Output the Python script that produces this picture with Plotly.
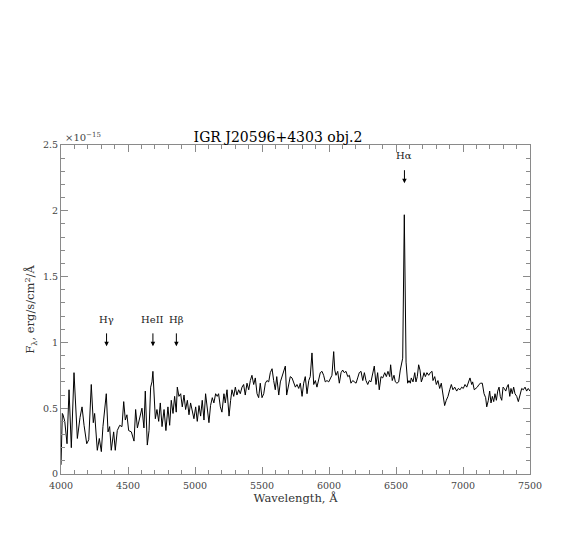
import plotly.graph_objects as go

# Spectrum of IGR J20596+4303 obj.2, flux in units of 1e-15 erg/s/cm2/A
wavelength = [
    4000, 4010, 4015, 4028, 4045, 4060, 4077, 4097, 4122, 4142, 4157, 4172, 4192, 4207,
    4226, 4241, 4251, 4271, 4286, 4301, 4313, 4338, 4351, 4363, 4375, 4393, 4405, 4420,
    4438, 4455, 4468, 4480, 4492, 4505, 4525, 4545, 4557, 4570, 4587, 4604,
    4619, 4629, 4644, 4657, 4669, 4679, 4686, 4694, 4704, 4716, 4729, 4741, 4754, 4769,
    4783, 4798, 4811, 4823, 4836, 4848, 4860, 4868, 4880, 4893, 4905, 4918, 4930, 4943,
    4955, 4967, 4980, 4992, 5005, 5017, 5030, 5042, 5054, 5067, 5079, 5092, 5104, 5116,
    5129, 5141, 5154, 5166, 5176, 5189,
    5201, 5216, 5226, 5239, 5254, 5266, 5276, 5289, 5301, 5313, 5326, 5338, 5351, 5363,
    5375, 5388, 5401, 5413, 5425, 5438, 5450, 5463, 5475, 5487, 5500, 5513, 5525, 5537,
    5550, 5562, 5575, 5587, 5599, 5610, 5625, 5637, 5649, 5662, 5674, 5684, 5699, 5711,
    5724, 5737, 5749, 5761, 5774, 5786,
    5799, 5811, 5823, 5836, 5849, 5860, 5873, 5886, 5898, 5910, 5923, 5935, 5948, 5960,
    5972, 5985, 5998, 6010, 6022, 6035, 6043, 6052, 6065, 6077, 6090, 6102, 6114, 6127,
    6140, 6152, 6164, 6177, 6189, 6202, 6214, 6226, 6239, 6252, 6264, 6276, 6289, 6301,
    6313, 6326, 6338, 6351, 6363, 6375, 6388, 6401,
    6416, 6428, 6440, 6453, 6460, 6472, 6485, 6495, 6507, 6520, 6532, 6550, 6562, 6575,
    6587, 6597, 6607, 6614, 6627, 6640, 6649, 6659, 6669, 6679, 6689, 6699, 6709, 6719,
    6731, 6744, 6756, 6769, 6776, 6789, 6801, 6813, 6826, 6838, 6851, 6863, 6875, 6888,
    6901, 6913, 6925, 6938,
    6953, 6965, 6978, 6990, 7002, 7015, 7028, 7040, 7052, 7065, 7072, 7084, 7097, 7107,
    7119, 7132, 7144, 7157, 7169, 7177, 7189, 7199, 7209, 7219, 7229, 7239, 7249, 7259,
    7269, 7278, 7289, 7299, 7308, 7319, 7328, 7338, 7349, 7358, 7368, 7378, 7388, 7401,
    7413, 7425, 7438, 7450, 7463, 7475, 7487, 7500,
]
flux = [
    0.07, 0.46, 0.45, 0.40, 0.23, 0.64, 0.20, 0.77, 0.27, 0.43, 0.51, 0.37, 0.23, 0.26,
    0.68, 0.39, 0.46, 0.18, 0.27, 0.17, 0.36, 0.61, 0.32, 0.36, 0.18, 0.32, 0.18, 0.33,
    0.37, 0.36, 0.55, 0.41, 0.45, 0.33, 0.32, 0.25, 0.49, 0.35, 0.44, 0.50,
    0.35, 0.63, 0.22, 0.33, 0.66, 0.70, 0.78, 0.61, 0.42, 0.49, 0.40, 0.54, 0.36, 0.49,
    0.33, 0.51, 0.37, 0.56, 0.46, 0.59, 0.47, 0.66, 0.59, 0.61, 0.51, 0.60, 0.49, 0.56,
    0.45, 0.54, 0.47, 0.42, 0.51, 0.40, 0.52, 0.44, 0.56, 0.41, 0.61, 0.49, 0.39, 0.52,
    0.58, 0.54, 0.61, 0.59, 0.61, 0.51,
    0.47, 0.61, 0.54, 0.64, 0.44, 0.56, 0.64, 0.59, 0.66, 0.60, 0.64, 0.61, 0.66, 0.68,
    0.60, 0.69, 0.64, 0.71, 0.75, 0.68, 0.73, 0.61, 0.58, 0.69, 0.58, 0.61, 0.69, 0.71,
    0.70, 0.77, 0.80, 0.71, 0.64, 0.74, 0.60, 0.70, 0.74, 0.79, 0.82, 0.60, 0.69, 0.74,
    0.73, 0.69, 0.66, 0.68, 0.65, 0.69,
    0.59, 0.69, 0.74, 0.61, 0.71, 0.74, 0.92, 0.68, 0.71, 0.66, 0.73, 0.77, 0.78, 0.75,
    0.70, 0.71, 0.70, 0.73, 0.75, 0.93, 0.79, 0.75, 0.78, 0.69, 0.77, 0.79, 0.77, 0.78,
    0.74, 0.75, 0.69, 0.71, 0.70, 0.69, 0.73, 0.77, 0.78, 0.71, 0.77, 0.71, 0.68, 0.71,
    0.70, 0.77, 0.82, 0.68, 0.77, 0.64, 0.74, 0.73,
    0.77, 0.74, 0.78, 0.74, 0.83, 0.71, 0.75, 0.70, 0.69, 0.70, 0.79, 0.88, 1.97, 0.85,
    0.69, 0.71, 0.69, 0.73, 0.70, 0.77, 0.70, 0.74, 0.83, 0.79, 0.70, 0.73, 0.77, 0.74,
    0.77, 0.75, 0.77, 0.78, 0.71, 0.74, 0.68, 0.71, 0.65, 0.69, 0.61, 0.52, 0.56, 0.59,
    0.64, 0.68, 0.64, 0.66,
    0.63, 0.65, 0.64, 0.66, 0.65, 0.68, 0.66, 0.69, 0.73, 0.68, 0.70, 0.64, 0.65, 0.66,
    0.68, 0.69, 0.69, 0.61, 0.58, 0.51, 0.56, 0.63, 0.54, 0.59, 0.55, 0.61, 0.56, 0.63,
    0.66, 0.59, 0.56, 0.66, 0.65, 0.63, 0.66, 0.68, 0.59, 0.65, 0.61, 0.66, 0.61, 0.59,
    0.55, 0.61, 0.65, 0.64, 0.66, 0.63, 0.65, 0.63,
]

# identified lines
line_names = ["H&#947;", "HeII", "H&#946;", "H&#945;"]
line_wl = [4340, 4686, 4861, 6563]

x_ticks = [4000, 4500, 5000, 5500, 6000, 6500, 7000, 7500]
y_ticks = [0, 0.5, 1, 1.5, 2, 2.5]
y_ticklabels = ["0", "0.5", "1", "1.5", "2", "2.5"]

FONT = "DejaVu Serif"
AXCOL = "#8a8a8a"

fig = go.Figure()
fig.add_trace(go.Scatter(
    x=wavelength, y=flux, mode="lines",
    line=dict(color="black", width=1),
    showlegend=False,
))

# arrows + labels (Halpha sits higher than the others)
for name, wl in zip(line_names, line_wl):
    tip, tail, lab = (0.97, 1.08, 1.12) if wl < 6000 else (2.21, 2.32, 2.36)
    fig.add_annotation(x=wl, y=tip, ax=wl, ay=tail, axref="x", ayref="y",
                       text="", showarrow=True, arrowhead=2, arrowsize=0.9,
                       arrowwidth=1, arrowcolor="black")
    fig.add_annotation(x=wl, y=lab, text=name, showarrow=False, yanchor="bottom",
                       font=dict(family=FONT, size=10, color="#222"))

fig.add_annotation(xref="paper", yref="paper", x=0.005, y=1.0, xanchor="left",
                   yanchor="bottom", showarrow=False, text="&#215;10<sup>&#8722;15</sup>",
                   font=dict(family=FONT, size=10, color="#444"))

axis_common = dict(
    showline=True, linecolor=AXCOL, linewidth=1, mirror="ticks",
    ticks="inside", tickcolor=AXCOL, showgrid=False, zeroline=False,
    tickfont=dict(family=FONT, size=9.5, color="#444"),
)

fig.update_xaxes(
    range=[4000, 7500], tickvals=x_ticks, ticklen=7, ticklabelstandoff=3,
    minor=dict(dtick=100, ticks="inside", ticklen=4, tickcolor=AXCOL),
    title=dict(text="Wavelength, &#197;", standoff=0,
               font=dict(family=FONT, size=11.5, color="#333")),
    **axis_common,
)
fig.update_yaxes(
    range=[0, 2.5], tickvals=y_ticks, ticktext=y_ticklabels, ticklen=7,
    minor=dict(dtick=0.1, ticks="inside", ticklen=4, tickcolor=AXCOL),
    title=dict(text="F<sub>&#955;</sub>, erg/s/cm<sup>2</sup>/&#197;", standoff=5,
               font=dict(family=FONT, size=11.5, color="#333")),
    **axis_common,
)

# the page body adds ~8px offset, margins compensate for it
fig.update_layout(
    width=568, height=536,
    margin=dict(l=53, r=46, t=137, b=70, autoexpand=False),
    plot_bgcolor="white", paper_bgcolor="white",
    title=dict(text="IGR J20596+4303 obj.2", x=270 / 568, xanchor="center",
               y=1 - 129 / 536, yanchor="middle",
               font=dict(family=FONT, size=14, color="black")),
)

fig.write_html("out.html")
